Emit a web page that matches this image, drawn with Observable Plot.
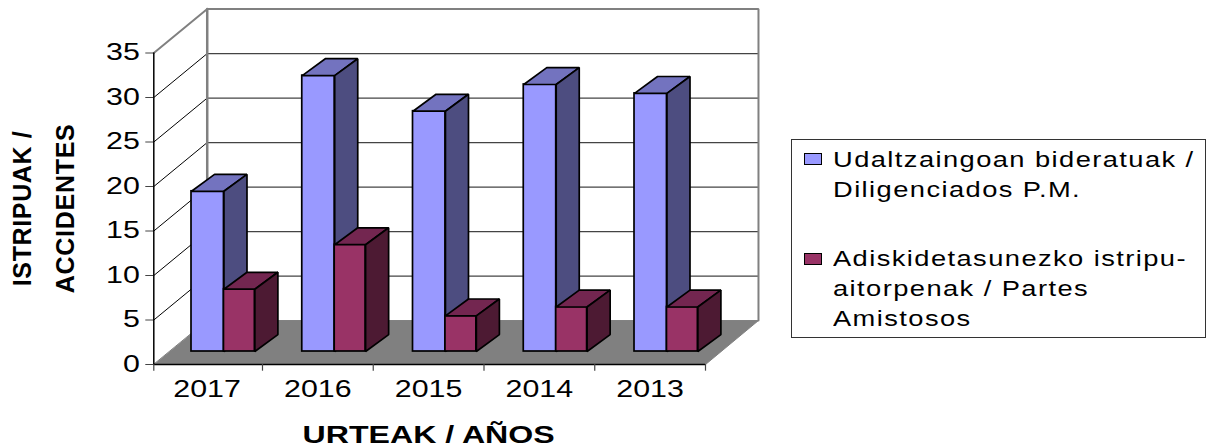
<!DOCTYPE html>
<html>
<head>
<meta charset="utf-8">
<script src="https://cdn.jsdelivr.net/npm/d3@7"></script>
<script src="https://cdn.jsdelivr.net/npm/@observablehq/plot@0.6"></script>
<style>
  html, body { margin: 0; padding: 0; background: #fff; }
  #wrap { position: relative; width: 1218px; height: 448px; overflow: hidden; }
  #legend { position: absolute; left: 790.5px; top: 138.5px; width: 415px; height: 199px; box-sizing: border-box;
    border: 1px solid #333; background: #fff; font-family: "Liberation Sans", Arial, sans-serif; color: #000; }
  .lg-text { position: absolute; left: 41px; font-size: 22px; line-height: 30px; letter-spacing: 1.15px; white-space: pre; transform: scaleX(1.24); transform-origin: left top; }
  .lg-swatch { position: absolute; left: 12px; width: 16.5px; height: 10.5px; border: 1.5px solid #000; box-sizing: content-box; }
</style>
</head>
<body>
<div id="wrap"></div>
<script>
const years = ["2017", "2016", "2015", "2014", "2013"];
const diligenciados = [18, 31, 27, 30, 29];
const amistosos = [7, 12, 4, 5, 5];
const yTicks = [0, 5, 10, 15, 20, 25, 30, 35];
const seriesNames = ["Udaltzaingoan bideratuak /\nDiligenciados P.M.", "Adiskidetasunezko istripu-\naitorpenak / Partes\nAmistosos"];
const xTitle = "URTEAK / AÑOS";
const yTitleA = "ISTRIPUAK /";
const yTitleB = "ACCIDENTES";

const font = "Liberation Sans, Arial, sans-serif";
const xStart = 0.0186;
const wallDX = 0.4824, wallDY = 4.94;
const barDX = 0.208, barDY = 1.9;
const lift = -13;
const yMax = 35, cats = years.length;

const poly = (pts, o) => Plot.line(pts.map(([x, y]) => ({x, y})), {x: "x", y: "y", curve: "linear-closed", ...o});
const path = (pts, o) => Plot.line(pts.map(([x, y]) => ({x, y})), {x: "x", y: "y", ...o});
const backL = xStart + wallDX, backR = cats + wallDX - 0.004;

const marks = [];

// floor
marks.push(poly([[xStart, 0], [cats, 0], [backR, wallDY], [backL, wallDY]], {fill: "#808080", stroke: "#808080", strokeWidth: 1}));

// back wall grid and side wall grid
const inner = yTicks.filter(v => v > 0 && v < yMax);
marks.push(Plot.link(inner, {x1: () => backL, x2: () => backR, y1: v => v + wallDY, y2: v => v + wallDY, stroke: "#444", strokeWidth: 1.2}));
marks.push(Plot.link(inner, {x1: () => xStart, x2: () => backL, y1: v => v, y2: v => v + wallDY, stroke: "#000", strokeWidth: 1}));

// wall frame
marks.push(path([[xStart, yMax], [backL, yMax + wallDY], [backR, yMax + wallDY], [backR, wallDY]], {stroke: "#808080", strokeWidth: 2, strokeLinejoin: "miter"}));
marks.push(path([[backL, yMax + wallDY], [backL, wallDY]], {stroke: "#808080", strokeWidth: 2.5}));

// axes
marks.push(Plot.axisY({ticks: yTicks, tickSize: 8, tickPadding: 6, fontSize: 23, label: null, fontFamily: font, className: "stretch-ticks", stroke: "#444", color: "#000"}));
marks.push(Plot.ruleX([xStart], {y1: 0, y2: yMax, stroke: "#000", strokeWidth: 1.5}));
marks.push(Plot.ruleY([0], {x1: xStart, x2: cats, stroke: "#000", strokeWidth: 1.5}));
marks.push(Plot.ruleX([xStart, 1, 2, 3, 4, 5], {y1: () => 0, y2: () => -0.75, stroke: "#444", strokeWidth: 1.2}));
marks.push(Plot.axisX({ticks: d3.range(cats).map(i => i + 0.5), tickSize: 0, tickPadding: 0, tickFormat: d => years[Math.floor(d)], fontSize: 23, label: null, fontFamily: font, className: "stretch-ticks", dy: 16}));

// bars
const drawBar = (x0, x1, v, front, side, cap) => {
  const bo = {dy: lift, stroke: "#000", strokeWidth: 1.7, strokeLinejoin: "miter"};
  marks.push(Plot.rect([v], {x1: () => x0, x2: () => x1, y1: () => 0, y2: d => d, fill: front, ...bo}));
  marks.push(poly([[x0, v], [x1, v], [x1 + barDX, v + barDY], [x0 + barDX, v + barDY]], {fill: cap, ...bo}));
  marks.push(poly([[x1, 0], [x1 + barDX, barDY], [x1 + barDX, v + barDY], [x1, v]], {fill: side, ...bo}));
};
years.forEach((_, i) => {
  drawBar(i + 0.359, i + 0.652, diligenciados[i], "#9999FF", "#4D4D80", "#7373BF");
  drawBar(i + 0.652, i + 0.931, amistosos[i], "#993366", "#4D1A33", "#732650");
});

// titles
marks.push(Plot.text([xTitle], {x: () => 2.5, y: () => 0, dy: 71, text: d => d, fontSize: 23, fontWeight: "bold", fontFamily: font, fill: "#000", className: "title-x"}));
marks.push(Plot.text([yTitleA], {frameAnchor: "left", textAnchor: "middle", dx: -130.8, text: d => d, rotate: -90, fontSize: 25, fontWeight: "bold", fontFamily: font, fill: "#000", className: "title-a"}));
marks.push(Plot.text([yTitleB], {frameAnchor: "left", textAnchor: "middle", dx: -88.3, text: d => d, rotate: -90, fontSize: 25, fontWeight: "bold", fontFamily: font, fill: "#000", className: "title-b"}));

const chart = Plot.plot({
  width: 1218, height: 448,
  marginLeft: 153.3, marginRight: 513, marginTop: 52.5, marginBottom: 84,
  x: {type: "linear", domain: [xStart, cats], axis: null},
  y: {type: "linear", domain: [0, yMax], axis: null},
  style: {background: "#fff", fontFamily: font, overflow: "visible"},
  marks
});
const wrap = document.getElementById("wrap");
wrap.appendChild(chart);

// Reference glyphs are horizontally stretched: fit text lengths to the lengths.
chart.querySelectorAll(".stretch-ticks text").forEach(t => {
  t.setAttribute("textLength", (t.getComputedTextLength() * 1.32).toFixed(1));
  t.setAttribute("lengthAdjust", "spacingAndGlyphs");
});
const fit = (cls, len, adj) => chart.querySelectorAll(`.${cls} text`).forEach(t => {
  t.setAttribute("textLength", len);
  t.setAttribute("lengthAdjust", adj);
});
fit("title-x", 252, "spacingAndGlyphs");
fit("title-a", 155, "spacing");
fit("title-b", 169, "spacing");

// legend
const legend = document.createElement("div");
legend.id = "legend";
const swatchColors = ["#9999FF", "#993366"];
const textTops = [5, 104];
const swatchTops = [13, 113];
seriesNames.forEach((name, i) => {
  const t = document.createElement("div");
  t.className = "lg-text"; t.textContent = name; t.style.top = textTops[i] + "px";
  const s = document.createElement("div");
  s.className = "lg-swatch"; s.style.top = swatchTops[i] + "px"; s.style.background = swatchColors[i];
  legend.append(s, t);
});
wrap.appendChild(legend);
</script>
</body>
</html>
